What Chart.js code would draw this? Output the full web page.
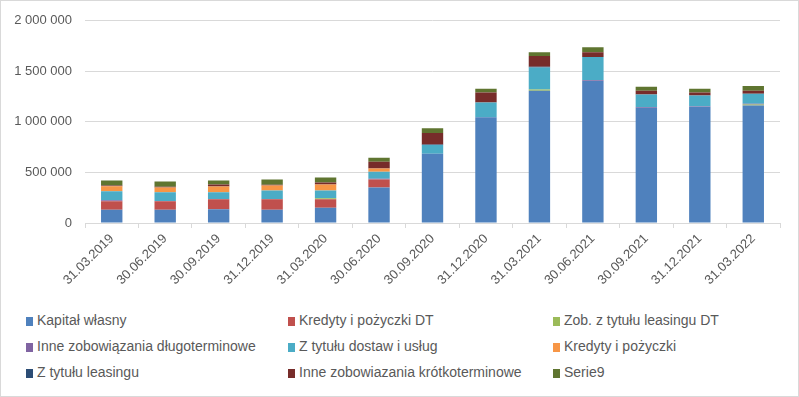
<!DOCTYPE html>
<html>
<head>
    <meta charset="utf-8">
    <title>Struktura finansowania</title>
    <script src="https://cdnjs.cloudflare.com/ajax/libs/Chart.js/4.4.1/chart.umd.min.js"></script>
    <style>
        body { margin: 0; background: #fff; }
        #wrap { position: relative; width: 799px; height: 397px; font-family: "Liberation Sans", Arial, sans-serif; }
        #frame { position: absolute; left: 0; top: 0; width: 799px; height: 397px; box-sizing: border-box; border: 1px solid #d9d9d9; pointer-events: none; }
        #myChart { position: absolute; left: 0; top: 0; }
        #legend { position: absolute; left: 0; top: 311px; width: 799px; }
        .item { position: absolute; font-size: 14px; color: #595959; white-space: nowrap; line-height: 18px; }
        .box { display: inline-block; width: 7px; height: 9px; margin-right: 4px; vertical-align: -1px; }
    </style>
</head>
<body>
<div id="wrap">
    <canvas id="myChart" width="799" height="300"></canvas>
    <div id="legend"></div>
    <div id="frame"></div>
</div>

<script>
    var LABELS = ["31.03.2019", "30.06.2019", "30.09.2019", "31.12.2019", "31.03.2020", "30.06.2020",
        "30.09.2020", "31.12.2020", "31.03.2021", "30.06.2021", "30.09.2021", "31.12.2021", "31.03.2022"];

    var kapital = [130000, 130000, 137000, 130000, 150000, 352000, 684000, 1045000, 1309000, 1404000, 1140000, 1150000, 1163000];
    var kredytyDT = [85000, 85000, 97000, 104000, 84000, 78000, 0, 0, 0, 0, 0, 0, 0];
    var leasingDT = [0, 0, 0, 0, 10000, 0, 0, 0, 12000, 0, 0, 0, 8000];
    var inneDT = [10000, 3000, 3000, 4000, 0, 8000, 0, 0, 0, 8000, 8000, 6000, 8000];
    var dostawy = [88000, 85000, 66000, 84000, 78000, 70000, 88000, 147000, 216000, 229000, 122000, 104000, 99000];
    var kredyty = [51000, 49000, 58000, 49000, 59000, 32000, 0, 0, 0, 0, 0, 0, 0];
    var leasing = [0, 0, 0, 0, 0, 0, 5000, 0, 8000, 0, 0, 0, 0];
    var inneKT = [7000, 7000, 20000, 7000, 19000, 66000, 112000, 98000, 106000, 49000, 39000, 30000, 29000];
    var serie9 = [49000, 51000, 39000, 52000, 49000, 39000, 49000, 39000, 39000, 49000, 39000, 39000, 49000];

    var SERIES = [
        ["Kapitał własny", kapital, "#4F81BD"],
        ["Kredyty i pożyczki DT", kredytyDT, "#C0504D"],
        ["Zob. z tytułu leasingu DT", leasingDT, "#9BBB59"],
        ["Inne zobowiązania długoterminowe", inneDT, "#8064A2"],
        ["Z tytułu dostaw i usług", dostawy, "#4BACC6"],
        ["Kredyty i pożyczki", kredyty, "#F79646"],
        ["Z tytułu leasingu", leasing, "#2C4D75"],
        ["Inne zobowiazania krótkoterminowe", inneKT, "#772C2A"],
        ["Serie9", serie9, "#5F7530"]
    ];

    var numberWithSpaces = function(x) {
        return x.toString().replace(/\B(?=(\d{3})+(?!\d))/g, " ");
    };

    var datasets = SERIES.map(function(s) {
        return {
            label: s[0],
            data: s[1],
            backgroundColor: s[2],
            borderWidth: 0,
            barPercentage: 1,
            categoryPercentage: 0.4
        };
    });

    var ctx = document.getElementById('myChart').getContext('2d');
    var myChart = new Chart(ctx, {
        type: 'bar',
        data: { labels: LABELS, datasets: datasets },
        options: {
            responsive: false,
            animation: false,
            layout: { padding: { top: 18, right: 19, left: 0, bottom: 0 } },
            plugins: { legend: { display: false }, tooltip: { enabled: false } },
            scales: {
                x: {
                    stacked: true,
                    grid: { offset: true, drawOnChartArea: false, drawTicks: true, tickLength: 5, color: '#d9d9d9' },
                    border: { color: '#d9d9d9' },
                    ticks: {
                        minRotation: 45, maxRotation: 45, padding: 3,
                        color: '#595959',
                        font: { family: '"Liberation Sans", Arial, sans-serif', size: 13 }
                    },
                    afterFit: function(scale) { scale.height = 77; }
                },
                y: {
                    stacked: true,
                    min: 0, max: 2000000,
                    grid: { color: '#d9d9d9', drawTicks: false },
                    border: { display: false },
                    ticks: {
                        stepSize: 500000, padding: 13,
                        color: '#595959',
                        font: { family: '"Liberation Sans", Arial, sans-serif', size: 13 },
                        callback: function(v) { return numberWithSpaces(v); }
                    },
                    afterFit: function(scale) { scale.width = 85; }
                }
            }
        }
    });

    // legend in three columns, like the original
    var colX = [26, 288, 553];
    var rowY = [0, 26, 52];
    var legend = document.getElementById('legend');
    SERIES.forEach(function(s, i) {
        var el = document.createElement('div');
        el.className = 'item';
        el.style.left = colX[i % 3] + 'px';
        el.style.top = rowY[Math.floor(i / 3)] + 'px';
        el.innerHTML = '<span class="box" style="background:' + s[2] + '"></span>' + s[0];
        legend.appendChild(el);
    });
</script>
</body>
</html>
